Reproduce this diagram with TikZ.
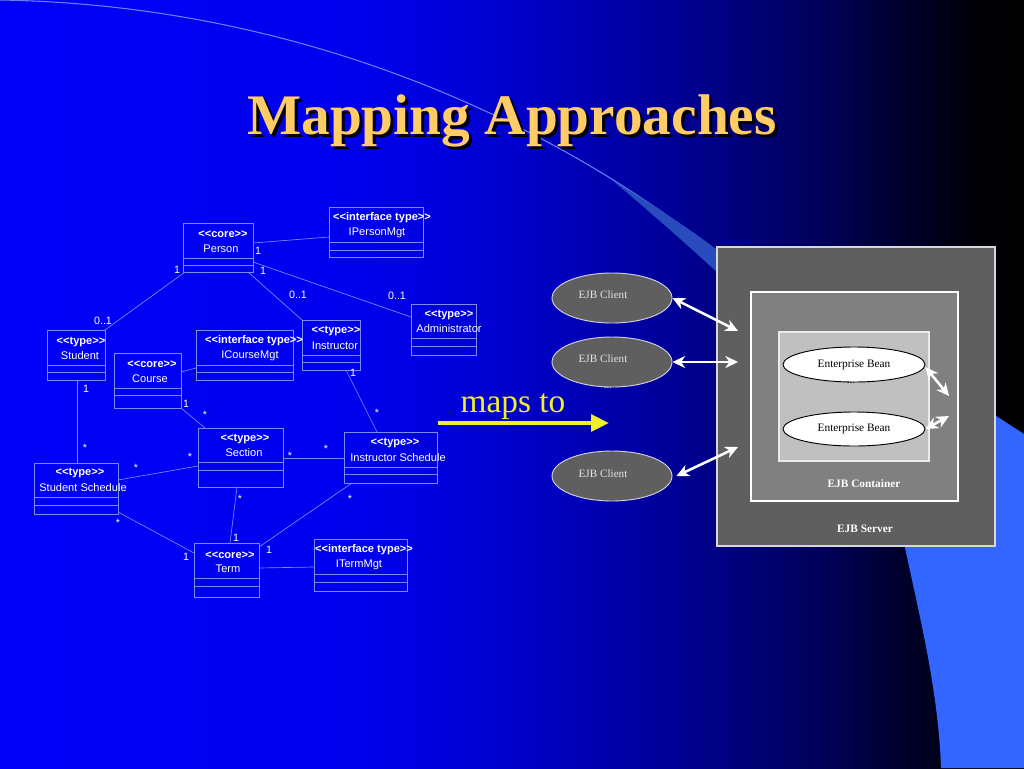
\documentclass[tikz,border=0pt]{standalone}
\usepackage{fontspec}
\setmainfont{Liberation Serif}
\newfontfamily\arialf{Liberation Sans}
\usetikzlibrary{shapes.geometric,arrows.meta}
\pgfdeclarehorizontalshading{bgshade}{100bp}{rgb(0bp)=(0,0,0.97); rgb(25bp)=(0,0,0.97); rgb(42.5bp)=(0,0,0.93); rgb(50bp)=(0,0,0.8); rgb(57.5bp)=(0,0,0.6); rgb(65bp)=(0,0,0.35); rgb(69bp)=(0,0,0.18); rgb(72.5bp)=(0,0,0.03); rgb(75bp)=(0,0,0); rgb(100bp)=(0,0,0)}
\definecolor{umlline}{RGB}{120,140,255}
\definecolor{titlegold}{RGB}{255,204,102}
\definecolor{mapyellow}{RGB}{240,240,40}
\definecolor{lightblue}{RGB}{51,102,255}
\definecolor{wedgeblue}{RGB}{40,75,190}
\definecolor{curveblue}{RGB}{100,130,245}
\definecolor{srvgray}{RGB}{95,95,95}
\definecolor{contgray}{RGB}{128,128,128}
\definecolor{innergray}{RGB}{192,192,192}
\definecolor{clientline}{RGB}{210,210,230}
\definecolor{clienttext}{RGB}{228,228,228}
\tikzset{
  umlbox/.style={rectangle, draw=umlline, line width=0.6pt, inner sep=0pt, outer sep=0pt},
  umlsep/.style={draw=umlline, line width=0.6pt},
  assoc/.style={draw=umlline, line width=0.5pt},
  stereo/.style={text=white, font=\arialf\bfseries\fontsize{8.3}{9}\selectfont, inner sep=0pt},
  cname/.style={text=white, font=\arialf\fontsize{8.3}{9}\selectfont, inner sep=0pt},
  mult/.style={text=white, font=\arialf\fontsize{8}{9}\selectfont, inner sep=0pt},
  client/.style={ellipse, draw=clientline, fill=srvgray, line width=0.7pt, minimum width=90pt, minimum height=37.5pt, inner sep=0pt},
  bean/.style={ellipse, draw=black, fill=white, line width=0.7pt, minimum width=106.5pt, inner sep=0pt, font=\fontsize{8.5}{10}\selectfont},
  ejbtext/.style={font=\fontsize{8.4}{10}\selectfont, inner sep=0pt},
  ejbbold/.style={font=\bfseries\fontsize{8.5}{10}\selectfont, text=white, inner sep=0pt},
  dblarrow/.style={draw=white, line width=1.9pt, {Stealth[length=9.5pt,width=9pt,inset=3pt]}-{Stealth[length=9.5pt,width=9pt,inset=3pt]}}
}
\newcommand\UMLbox[7]{%
  \node[umlbox, minimum width=#4pt, minimum height=#5pt] (#1) at (#2,#3) {};
  \draw[umlsep] (#1.west |- 0,#6) -- (#1.east |- 0,#6) (#1.west |- 0,#7) -- (#1.east |- 0,#7);
}
\begin{document}
\begin{tikzpicture}[x=0.75pt,y=-0.75pt]
\useasboundingbox (0,0) rectangle (1024,768);
% background
\shade[shading=bgshade] (0,0) rectangle (1024,768);
\draw[curveblue, line width=0.8pt] (0,0) .. controls (300,5) and (550,120) .. (720,255);
\fill[wedgeblue] (612,180) .. controls (655,206) and (690,229) .. (720,252) -- (720,275) .. controls (680,238) and (645,208) .. cycle;
\fill[lightblue] (1024,434) -- (990,412) -- (895,500) .. controls (915,600) and (938,680) .. (941,768) -- (1024,768) -- cycle;

% title
\node[font=\bfseries\fontsize{43}{50}\selectfont, text=black, anchor=base] (titleshadow) at (515,137) {Mapping Approaches};
\node[font=\bfseries\fontsize{43}{50}\selectfont, text=titlegold, anchor=base] (title) at (512,134) {Mapping Approaches};

% UML boxes
\UMLbox{person}{218}{247.5}{52.5}{36.75}{258}{265}
\UMLbox{ipm}{376}{232}{70.5}{37.5}{242}{250}
\UMLbox{student}{76}{355}{43.5}{37.5}{365}{372}
\UMLbox{course}{147.5}{380.5}{50.25}{41.25}{388}{395}
\UMLbox{icm}{244.5}{355}{72.75}{37.5}{365}{372}
\UMLbox{instructor}{331}{345}{43.5}{37.5}{355}{362}
\UMLbox{admin}{443.5}{329.5}{48.75}{38.25}{338}{346}
\UMLbox{section}{240.5}{457.5}{63.75}{44.25}{462}{470}
\UMLbox{isched}{390.5}{457.5}{69.75}{38.25}{467}{474}
\UMLbox{ssched}{76}{488.5}{63}{38.25}{497}{505}
\UMLbox{term}{226.5}{570}{48.75}{40.5}{578}{586}
\UMLbox{itm}{360.5}{565}{69.75}{39}{574}{582}

% UML texts
\node[stereo] (person-s) at (223,234) {<<core>>};
\node[cname] (person-n) at (221,249) {Person};
\node[stereo] (ipm-s) at (382,218) {<<interface type>>};
\node[cname] (ipm-n) at (377,233) {IPersonMgt};
\node[stereo] (student-s) at (81,342) {<<type>>};
\node[cname] (student-n) at (80,356) {Student};
\node[stereo] (course-s) at (152,364) {<<core>>};
\node[cname] (course-n) at (150,379) {Course};
\node[stereo] (icm-s) at (254,341) {<<interface type>>};
\node[cname] (icm-n) at (250,356) {ICourseMgt};
\node[stereo] (instructor-s) at (336,331) {<<type>>};
\node[cname] (instructor-n) at (335,346) {Instructor};
\node[stereo] (admin-s) at (449,315) {<<type>>};
\node[cname] (admin-n) at (449,329) {Administrator};
\node[stereo] (section-s) at (245,439) {<<type>>};
\node[cname] (section-n) at (244,453) {Section};
\node[stereo] (isched-s) at (395,443) {<<type>>};
\node[cname] (isched-n) at (398,458) {Instructor Schedule};
\node[stereo] (ssched-s) at (80,473) {<<type>>};
\node[cname] (ssched-n) at (83,488) {Student Schedule};
\node[stereo] (term-s) at (230,555) {<<core>>};
\node[cname] (term-n) at (228,569) {Term};
\node[stereo] (itm-s) at (364,550) {<<interface type>>};
\node[cname] (itm-n) at (359,565) {ITermMgt};

% associations
\draw[assoc] (person.east |- 0,243) -- (ipm.west |- 0,237);
\draw[assoc] (person.east |- 0,262) -- (admin.west |- 0,317);
\draw[assoc] (248,0 |- person.south) -- (instructor.north west);
\draw[assoc] (185,0 |- person.south) -- (student.north east);
\draw[assoc] (course.east |- 0,372) -- (icm.west |- 0,368);
\draw[assoc] (77,0 |- student.south) -- (77,0 |- ssched.north);
\draw[assoc] (course.south east) -- (205,0 |- section.north);
\draw[assoc] (346,0 |- instructor.south) -- (377,0 |- isched.north);
\draw[assoc] (section.east |- 0,458) -- (isched.west |- 0,458);
\draw[assoc] (ssched.east |- 0,480) -- (section.west |- 0,466);
\draw[assoc] (237,0 |- section.south) -- (230,0 |- term.north);
\draw[assoc] (352,0 |- isched.south) -- (term.east |- 0,547);
\draw[assoc] (ssched.east |- 0,512) -- (term.west |- 0,553);
\draw[assoc] (term.east |- 0,568) -- (itm.west |- 0,567);

% multiplicities
\node[mult] (m1) at (258,251) {1};
\node[mult] (m2) at (263,271) {1};
\node[mult] (m3) at (397,296) {0..1};
\node[mult] (m4) at (298,295) {0..1};
\node[mult] (m5) at (177,270) {1};
\node[mult] (m6) at (103,321) {0..1};
\node[mult] (m7) at (86,389) {1};
\node[mult] (m8) at (85,448) {*};
\node[mult] (m9) at (186,404) {1};
\node[mult] (m10) at (205,415) {*};
\node[mult] (m11) at (353,373) {1};
\node[mult] (m12) at (377,413) {*};
\node[mult] (m13) at (290,456) {*};
\node[mult] (m14) at (326,449) {*};
\node[mult] (m15) at (136,468) {*};
\node[mult] (m16) at (190,457) {*};
\node[mult] (m17) at (240,499) {*};
\node[mult] (m18) at (236,538) {1};
\node[mult] (m19) at (350,499) {*};
\node[mult] (m20) at (269,550) {1};
\node[mult] (m21) at (118,523) {*};
\node[mult] (m22) at (186,557) {1};

% maps to
\node[font=\fontsize{25}{30}\selectfont, text=mapyellow, anchor=base] (maps) at (513,412) {maps to};
\coordinate (mapa) at (438,423);
\coordinate (mapb) at (609,423);
\draw[draw=mapyellow, line width=3pt, -{Triangle[length=13.5pt,width=12.5pt]}] (mapa) -- (mapb);

% EJB server
\node[rectangle, draw={rgb,255:red,215;green,215;blue,215}, fill=srvgray, line width=0.8pt, minimum width=208.5pt, minimum height=224.25pt, inner sep=0pt] (server) at (856,396.5) {};
\node[rectangle, draw=white, fill=contgray, line width=0.8pt, minimum width=155.25pt, minimum height=156.75pt, inner sep=0pt] (container) at (854.5,396.5) {};
\node[rectangle, draw={rgb,255:red,235;green,235;blue,235}, fill=innergray, line width=0.8pt, minimum width=112.5pt, minimum height=96.75pt, inner sep=0pt] (inner) at (854,396.5) {};
\node[ejbtext, anchor=base] (beandots) at (851,383) {...};
\node[bean, minimum height=26.25pt] (bean1) at (854,364.5) {Enterprise Bean};
\node[bean, minimum height=25.5pt] (bean2) at (854,429) {Enterprise Bean};
\node[ejbbold] (contlabel) at (864,484) {EJB Container};
\node[ejbbold] (srvlabel) at (865,529) {EJB Server};

% clients
\node[ejbtext, text=clienttext, anchor=base] (clientdots) at (608,388) {...};
\node[client] (c1) at (612,298) {};
\node[client] (c2) at (612,362) {};
\node[client] (c3) at (612,476) {};
\node[ejbtext, text=clienttext] (c1t) at (603,295) {EJB Client};
\node[ejbtext, text=clienttext] (c2t) at (603,359) {EJB Client};
\node[ejbtext, text=clienttext] (c3t) at (603,474) {EJB Client};

% arrows
\coordinate (s1) at (738,331);
\coordinate (s2) at (738,362);
\coordinate (s3) at (738,447);
\coordinate (b1) at (949,396);
\coordinate (b2) at (949,416);
\draw[dblarrow] (c1.east) -- (s1);
\draw[dblarrow] (c2.east) -- (s2);
\draw[dblarrow] ([xshift=3pt]c3.east) -- (s3);
\draw[dblarrow] ([yshift=-2pt]bean1.east) -- (b1);
\draw[dblarrow] (bean2.east) -- (b2);
\end{tikzpicture}
\end{document}
